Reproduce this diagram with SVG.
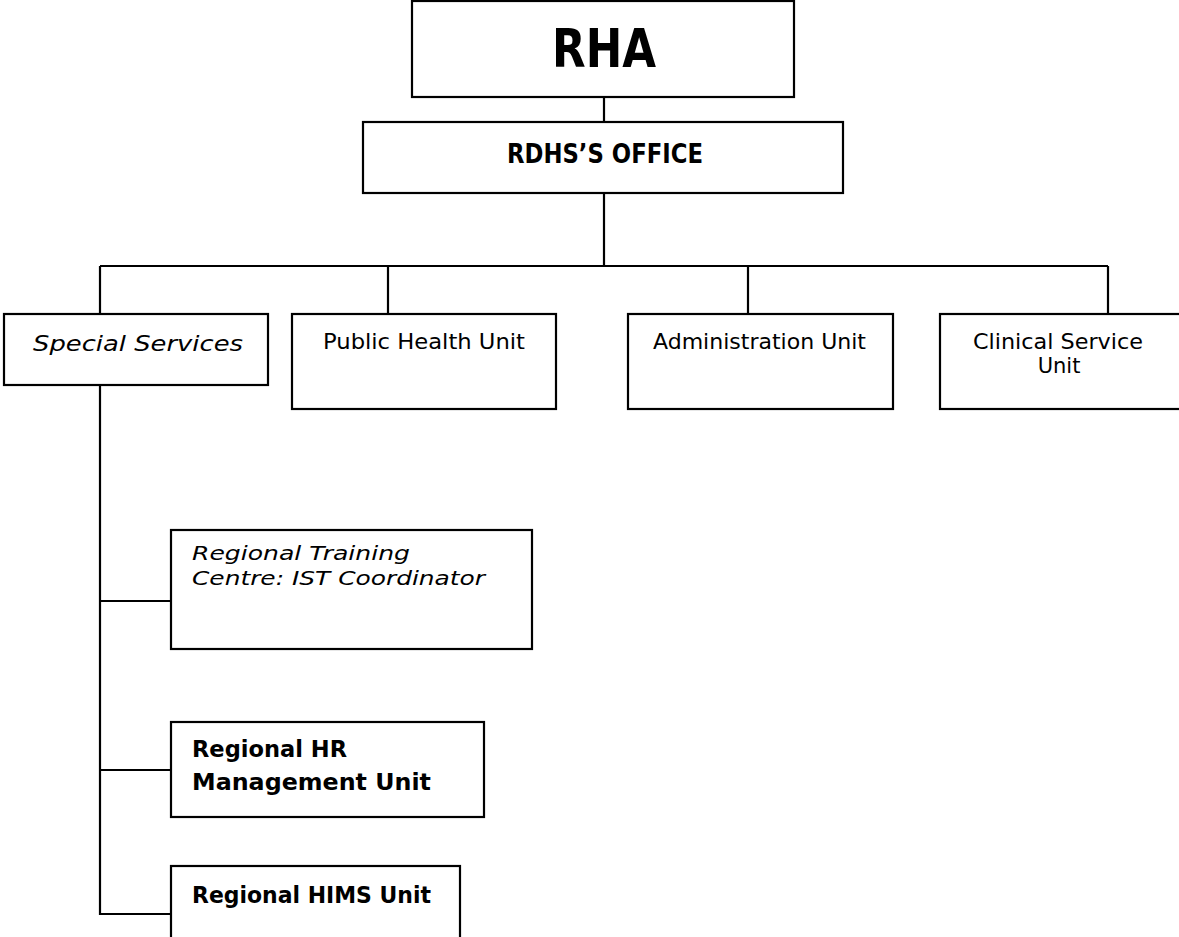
<svg xmlns="http://www.w3.org/2000/svg" width="1179" height="937" viewBox="0 0 1179 937">
<style>
.box{fill:#fff;stroke:#000;stroke-width:2.2}
.ln{fill:none;stroke:#000;stroke-width:2.2}
text{font-family:"DejaVu Sans","Liberation Sans",sans-serif;fill:#000}
.b{font-weight:bold}
.i{font-style:italic}
</style>
<rect width="1179" height="937" fill="#fff"/>
<g id="connectors">
<path class="ln" d="M604 97V122 M604 193V266 M100 266H1108 M100 266V314 M388 266V314 M748 266V314 M1108 266V314"/>
<path class="ln" d="M100 385V914H171 M100 601H171 M100 770H171"/>
</g>
<g id="rha">
<rect class="box" x="412" y="1" width="382" height="96"/>
<text class="b" x="552" y="67" font-size="53" textLength="104" lengthAdjust="spacingAndGlyphs">RHA</text>
</g>
<g id="rdhs">
<rect class="box" x="363" y="122" width="480" height="71"/>
<text class="b" x="507" y="163" font-size="27" textLength="196" lengthAdjust="spacingAndGlyphs">RDHS’S OFFICE</text>
</g>
<g id="special">
<rect class="box" x="4" y="314" width="264" height="71"/>
<text class="i" x="33" y="351" font-size="22" textLength="210" lengthAdjust="spacingAndGlyphs">Special Services</text>
</g>
<g id="public">
<rect class="box" x="292" y="314" width="264" height="95"/>
<text x="323" y="349" font-size="21" textLength="202" lengthAdjust="spacingAndGlyphs">Public Health Unit</text>
</g>
<g id="admin">
<rect class="box" x="628" y="314" width="265" height="95"/>
<text x="653" y="349" font-size="21" textLength="213" lengthAdjust="spacingAndGlyphs">Administration Unit</text>
</g>
<g id="clinical">
<rect class="box" x="940" y="314" width="242" height="95"/>
<text x="973" y="349" font-size="21" textLength="170" lengthAdjust="spacingAndGlyphs">Clinical Service</text>
<text x="1059" y="373" font-size="21" text-anchor="middle">Unit</text>
</g>
<g id="training">
<rect class="box" x="171" y="530" width="361" height="119"/>
<text class="i" x="192" y="560" font-size="20" textLength="218" lengthAdjust="spacingAndGlyphs">Regional Training</text>
<text class="i" x="192" y="585" font-size="20" textLength="293" lengthAdjust="spacingAndGlyphs">Centre: IST Coordinator</text>
</g>
<g id="hr">
<rect class="box" x="171" y="722" width="313" height="95"/>
<text class="b" x="192" y="757" font-size="23" textLength="155" lengthAdjust="spacingAndGlyphs">Regional HR</text>
<text class="b" x="192" y="790" font-size="23" textLength="239" lengthAdjust="spacingAndGlyphs">Management Unit</text>
</g>
<g id="hims">
<rect class="box" x="171" y="866" width="289" height="90"/>
<text class="b" x="192" y="903" font-size="23" textLength="239" lengthAdjust="spacingAndGlyphs">Regional HIMS Unit</text>
</g>
</svg>
